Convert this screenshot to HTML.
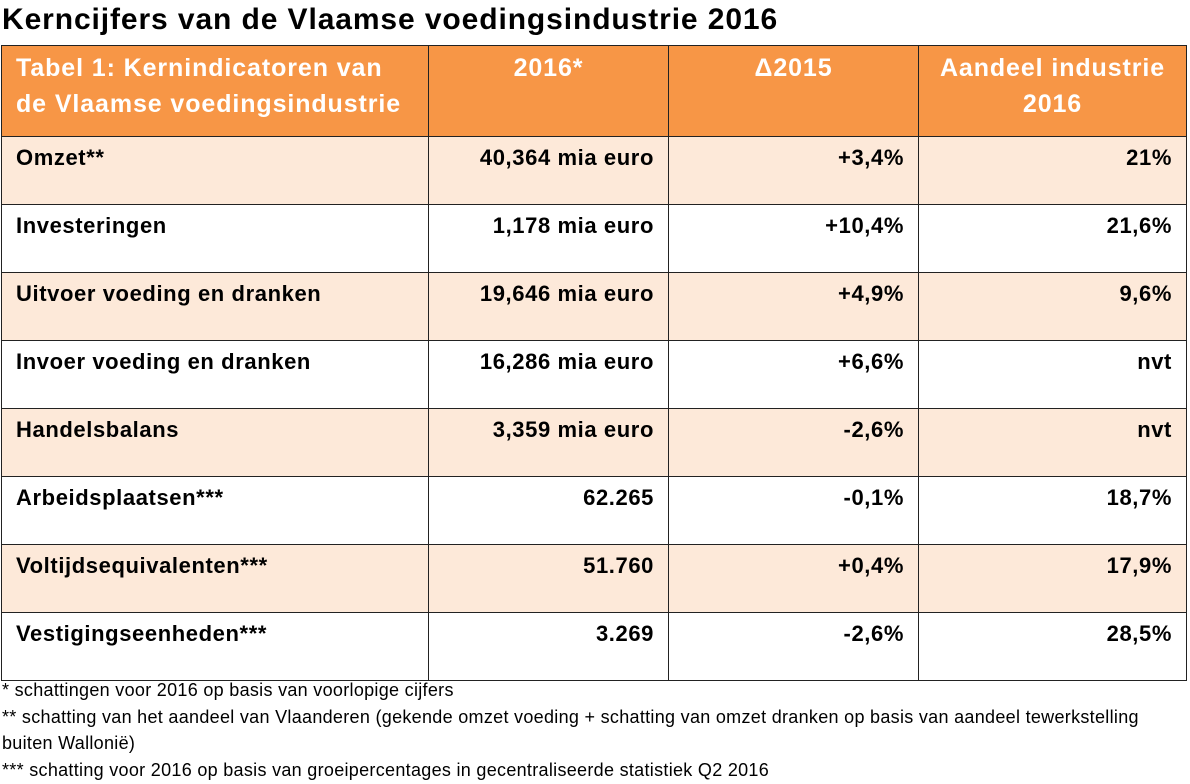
<!DOCTYPE html>
<html><head><meta charset="utf-8"><style>
body{margin:0;width:1190px;height:784px;background:#fff;font-family:"Liberation Sans",sans-serif;position:relative;overflow:hidden}
.t{position:absolute;left:2px;top:3px;font-size:30px;font-weight:bold;white-space:nowrap;letter-spacing:0.9px}
table{position:absolute;left:1px;top:45px;border-collapse:collapse;table-layout:fixed}
td{border:1.5px solid #222;vertical-align:top;font-weight:bold;font-size:22px;letter-spacing:0.6px;padding:8px 14px 0 14px;white-space:nowrap;overflow:hidden}
tr.h td{background:#f79646;color:#fff;font-size:25px;letter-spacing:0.9px;height:86px;line-height:36px;padding-top:4px}
tr.r td{height:59px}
tr.o td{background:#fde9d9}
.r1{text-align:right}
.c{text-align:center}
.f{position:absolute;left:2px;font-size:18px;letter-spacing:0.3px;white-space:nowrap}
</style></head><body>
<div class="t">Kerncijfers van de Vlaamse voedingsindustrie 2016</div>
<table>
<colgroup><col style="width:427px"><col style="width:240px"><col style="width:250px"><col style="width:268px"></colgroup>
<tr class="h"><td>Tabel 1: Kernindicatoren van<br>de Vlaamse voedingsindustrie</td><td class="c">2016*</td><td class="c">Δ2015</td><td class="c">Aandeel industrie<br>2016</td></tr>
<tr class="r o"><td>Omzet**</td><td class="r1">40,364 mia euro</td><td class="r1">+3,4%</td><td class="r1">21%</td></tr>
<tr class="r"><td>Investeringen</td><td class="r1">1,178 mia euro</td><td class="r1">+10,4%</td><td class="r1">21,6%</td></tr>
<tr class="r o"><td>Uitvoer voeding en dranken</td><td class="r1">19,646 mia euro</td><td class="r1">+4,9%</td><td class="r1">9,6%</td></tr>
<tr class="r"><td>Invoer voeding en dranken</td><td class="r1">16,286 mia euro</td><td class="r1">+6,6%</td><td class="r1">nvt</td></tr>
<tr class="r o"><td>Handelsbalans</td><td class="r1">3,359 mia euro</td><td class="r1">-2,6%</td><td class="r1">nvt</td></tr>
<tr class="r"><td>Arbeidsplaatsen***</td><td class="r1">62.265</td><td class="r1">-0,1%</td><td class="r1">18,7%</td></tr>
<tr class="r o"><td>Voltijdsequivalenten***</td><td class="r1">51.760</td><td class="r1">+0,4%</td><td class="r1">17,9%</td></tr>
<tr class="r"><td>Vestigingseenheden***</td><td class="r1">3.269</td><td class="r1">-2,6%</td><td class="r1">28,5%</td></tr>
</table>
<div class="f" style="top:680px">* schattingen voor 2016 op basis van voorlopige cijfers</div>
<div class="f" style="top:707px">** schatting van het aandeel van Vlaanderen (gekende omzet voeding + schatting van omzet dranken op basis van aandeel tewerkstelling</div>
<div class="f" style="top:733px">buiten Wallonië)</div>
<div class="f" style="top:760px">*** schatting voor 2016 op basis van groeipercentages in gecentraliseerde statistiek Q2 2016</div>
</body></html>
